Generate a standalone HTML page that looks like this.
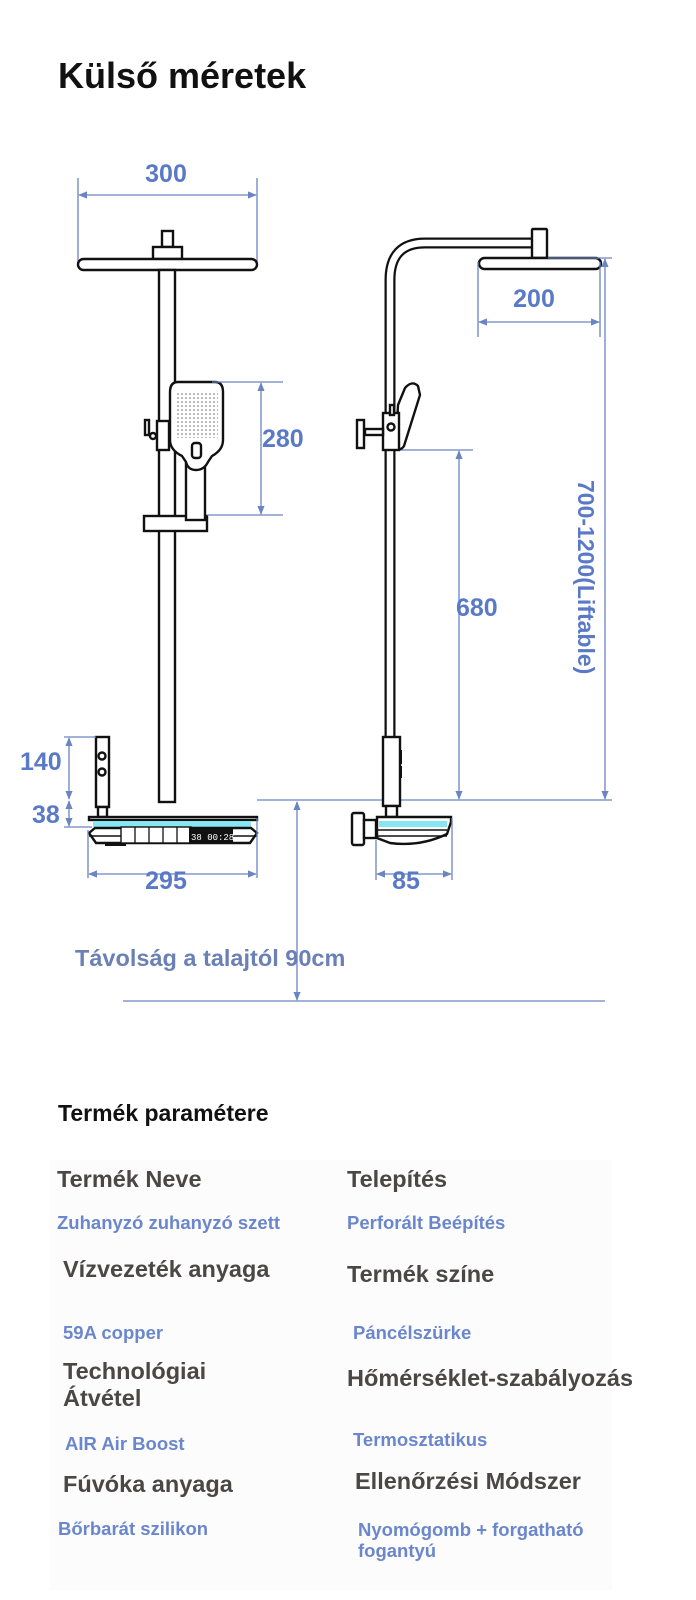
<!DOCTYPE html>
<html><head><meta charset="utf-8"><style>
html,body{margin:0;padding:0;background:#fff;}
svg{display:block;font-family:"Liberation Sans",sans-serif;}
.d{stroke:#6a85c2;stroke-width:1.3;fill:none}
.k{stroke:#111;stroke-width:2.4;fill:#fff}
.dt{fill:#5a79c6;font-weight:bold;font-size:25px}
.h{fill:#4a4746;font-weight:bold;font-size:23.5px}
.v{fill:#6a86cc;font-weight:bold;font-size:18.5px}
</style></head><body>
<svg width="696" height="1600" viewBox="0 0 696 1600">
<defs>
<marker id="a" viewBox="0 0 10 10" refX="9" refY="5" markerWidth="7" markerHeight="7" orient="auto-start-reverse"><path d="M0,1 L10,5 L0,9 z" fill="#6a85c2"/></marker>
<pattern id="dots" width="4" height="4" patternUnits="userSpaceOnUse"><circle cx="2" cy="2" r="0.8" fill="#666"/></pattern>
</defs>
<text x="58" y="88" font-size="36" font-weight="bold" fill="#111">Külső méretek</text>

<!-- LEFT FRONT VIEW -->
<line class="d" x1="78" y1="178" x2="78" y2="266"/><line class="d" x1="257" y1="178" x2="257" y2="266"/>
<line class="d" x1="79" y1="195" x2="256" y2="195" marker-start="url(#a)" marker-end="url(#a)"/>
<text class="dt" x="166" y="182" text-anchor="middle">300</text>
<rect class="k" x="162" y="231" width="11" height="16"/>
<rect class="k" x="153" y="247" width="29" height="12"/>
<rect class="k" x="78" y="259" width="179" height="11" rx="5.5"/>
<rect class="k" x="159" y="270" width="16" height="532"/>
<rect class="k" x="144" y="516" width="63" height="15"/>
<rect class="k" x="186" y="455" width="19" height="65"/>
<path class="k" d="M178,382 H215 Q223,382 223,392 V440 Q223,450 212,456 L208,462 Q204,470 196,470 Q188,470 186,462 L182,456 Q170,450 170,440 V392 Q170,382 178,382 z"/>
<rect x="176" y="392" width="42" height="46" fill="url(#dots)"/>
<rect class="k" x="192" y="443" width="9" height="15" rx="3" stroke-width="1.6"/>
<rect class="k" x="157" y="421" width="12" height="29" stroke-width="2"/>
<rect class="k" x="145" y="420" width="4" height="15" stroke-width="1.6"/>
<circle class="k" cx="153" cy="436" r="3" stroke-width="1.6"/>
<line class="d" x1="212" y1="382" x2="283" y2="382"/><line class="d" x1="207" y1="515" x2="283" y2="515"/>
<line class="d" x1="261" y1="383" x2="261" y2="514" marker-start="url(#a)" marker-end="url(#a)"/>
<text class="dt" x="262" y="447">280</text>
<rect class="k" x="96" y="737" width="13" height="70" stroke-width="2"/>
<circle class="k" cx="102" cy="756" r="3.5" stroke-width="1.5"/><circle class="k" cx="102" cy="772" r="3.5" stroke-width="1.5"/>
<rect class="k" x="98" y="807" width="9" height="10" stroke-width="1.6"/>
<line class="d" x1="64" y1="737" x2="96" y2="737"/>
<line class="d" x1="69" y1="738" x2="69" y2="799" marker-start="url(#a)" marker-end="url(#a)"/>
<line class="d" x1="69" y1="801" x2="69" y2="826" marker-start="url(#a)" marker-end="url(#a)"/>
<line class="d" x1="64" y1="827" x2="92" y2="827"/>
<text class="dt" x="20" y="770">140</text>
<text class="dt" x="32" y="823">38</text>
<rect class="k" x="89" y="817" width="168" height="3" stroke-width="1.6"/>
<rect x="93" y="821" width="158" height="6" fill="#86e6f2"/>
<path class="k" d="M89,833 L95,828 H251 L257,833 L250,843 H96 z" stroke-width="1.8"/>
<line x1="89" y1="836" x2="257" y2="836" stroke="#111" stroke-width="1.4"/>
<rect x="121" y="827" width="70" height="16" fill="#fff" stroke="#111" stroke-width="1.4"/>
<line x1="135" y1="827" x2="135" y2="843" stroke="#111" stroke-width="1.3"/><line x1="149" y1="827" x2="149" y2="843" stroke="#111" stroke-width="1.3"/><line x1="163" y1="827" x2="163" y2="843" stroke="#111" stroke-width="1.3"/><line x1="177" y1="827" x2="177" y2="843" stroke="#111" stroke-width="1.3"/>
<rect x="189" y="827" width="44" height="17" fill="#111"/>
<text x="191" y="840" font-size="9" fill="#fff" font-family="Liberation Mono,monospace">38 00:28</text>
<rect x="105" y="843" width="21" height="3" fill="#111"/>
<line class="d" x1="88" y1="830" x2="88" y2="878"/><line class="d" x1="257" y1="818" x2="257" y2="878"/>
<line class="d" x1="89" y1="874" x2="256" y2="874" marker-start="url(#a)" marker-end="url(#a)"/>
<text class="dt" x="166" y="889" text-anchor="middle">295</text>
<line class="d" x1="257" y1="800" x2="612" y2="800"/>
<line class="d" x1="297" y1="802" x2="297" y2="1000" marker-start="url(#a)" marker-end="url(#a)"/>
<line class="d" x1="123" y1="1001" x2="605" y2="1001"/>
<text x="75" y="966" font-size="23.5" font-weight="bold" fill="#6b80b5">Távolság a talajtól 90cm</text>

<!-- RIGHT SIDE VIEW -->
<path d="M390,800 V280 Q390,243 425,243 H533" fill="none" stroke="#111" stroke-width="11"/>
<path d="M390,800 V280 Q390,243 425,243 H533" fill="none" stroke="#fff" stroke-width="6.5"/>
<rect class="k" x="532" y="229" width="15" height="29" rx="1"/>
<rect class="k" x="479" y="258" width="122" height="11" rx="5.5"/>
<line class="d" x1="478" y1="262" x2="478" y2="337"/><line class="d" x1="600" y1="262" x2="600" y2="337"/>
<line class="d" x1="479" y1="322" x2="599" y2="322" marker-start="url(#a)" marker-end="url(#a)"/>
<text class="dt" x="534" y="307" text-anchor="middle">200</text>
<line class="d" x1="548" y1="258" x2="612" y2="258"/>
<line class="d" x1="605" y1="259" x2="605" y2="799" marker-start="url(#a)" marker-end="url(#a)"/>
<text x="578" y="480" transform="rotate(90 578 480)" font-size="23" font-weight="bold" fill="#5a79c6">700-1200(Liftable)</text>
<line class="d" x1="398" y1="450" x2="473" y2="450"/>
<line class="d" x1="459" y1="451" x2="459" y2="799" marker-start="url(#a)" marker-end="url(#a)"/>
<text class="dt" x="456" y="616">680</text>
<path class="k" d="M398,405 L405,388 Q412,380 418,386 L420,395 L404,446 Q400,452 396,446 z" stroke-width="2"/>
<rect class="k" x="383" y="413" width="16" height="37" stroke-width="2"/>
<rect class="k" x="390" y="405" width="4" height="10" stroke-width="1.5"/>
<circle class="k" cx="391" cy="427" r="3.5" stroke-width="1.5"/>
<rect class="k" x="365" y="429" width="18" height="6" stroke-width="1.6"/>
<rect class="k" x="357" y="420" width="7" height="28" stroke-width="2"/>
<rect class="k" x="383" y="737" width="17" height="69" stroke-width="2"/>
<rect x="399" y="750" width="3" height="14" fill="#111"/><rect x="399" y="766" width="3" height="12" fill="#111"/>
<rect class="k" x="386" y="806" width="11" height="11" stroke-width="1.6"/>
<rect class="k" x="352" y="813" width="12" height="32" rx="2" stroke-width="2"/>
<rect class="k" x="364" y="820" width="12" height="18" stroke-width="1.8"/>
<path class="k" d="M377,817 H451 V822 L447,834 Q420,847 390,843 L377,838 z" stroke-width="1.8"/>
<rect x="379" y="821" width="68" height="6" fill="#86e6f2"/>
<line x1="377" y1="830" x2="447" y2="830" stroke="#111" stroke-width="1.4"/>
<line x1="377" y1="836" x2="447" y2="836" stroke="#111" stroke-width="1.4"/>
<line class="d" x1="376" y1="840" x2="376" y2="880"/><line class="d" x1="452" y1="818" x2="452" y2="880"/>
<line class="d" x1="377" y1="874" x2="451" y2="874" marker-start="url(#a)" marker-end="url(#a)"/>
<text class="dt" x="406" y="889" text-anchor="middle">85</text>

<!-- PARAMETERS -->
<text x="58" y="1121" font-size="23" font-weight="bold" fill="#111">Termék paramétere</text>
<rect x="50" y="1160" width="562" height="430" fill="#fcfcfc"/>
<text class="h" x="57" y="1187">Termék Neve</text>
<text class="h" x="347" y="1187">Telepítés</text>
<text class="v" x="57" y="1229">Zuhanyzó zuhanyzó szett</text>
<text class="v" x="347" y="1229">Perforált Beépítés</text>
<text class="h" x="63" y="1277">Vízvezeték anyaga</text>
<text class="h" x="347" y="1282">Termék színe</text>
<text class="v" x="63" y="1339">59A copper</text>
<text class="v" x="353" y="1339">Páncélszürke</text>
<text class="h" x="63" y="1379">Technológiai</text>
<text class="h" x="63" y="1406">Átvétel</text>
<text class="h" x="347" y="1386">Hőmérséklet-szabályozás</text>
<text class="v" x="65" y="1450">AIR Air Boost</text>
<text class="v" x="353" y="1446">Termosztatikus</text>
<text class="h" x="63" y="1492">Fúvóka anyaga</text>
<text class="h" x="355" y="1489">Ellenőrzési Módszer</text>
<text class="v" x="58" y="1535">Bőrbarát szilikon</text>
<text class="v" x="358" y="1536">Nyomógomb + forgatható</text>
<text class="v" x="358" y="1557">fogantyú</text>
</svg>
</body></html>
